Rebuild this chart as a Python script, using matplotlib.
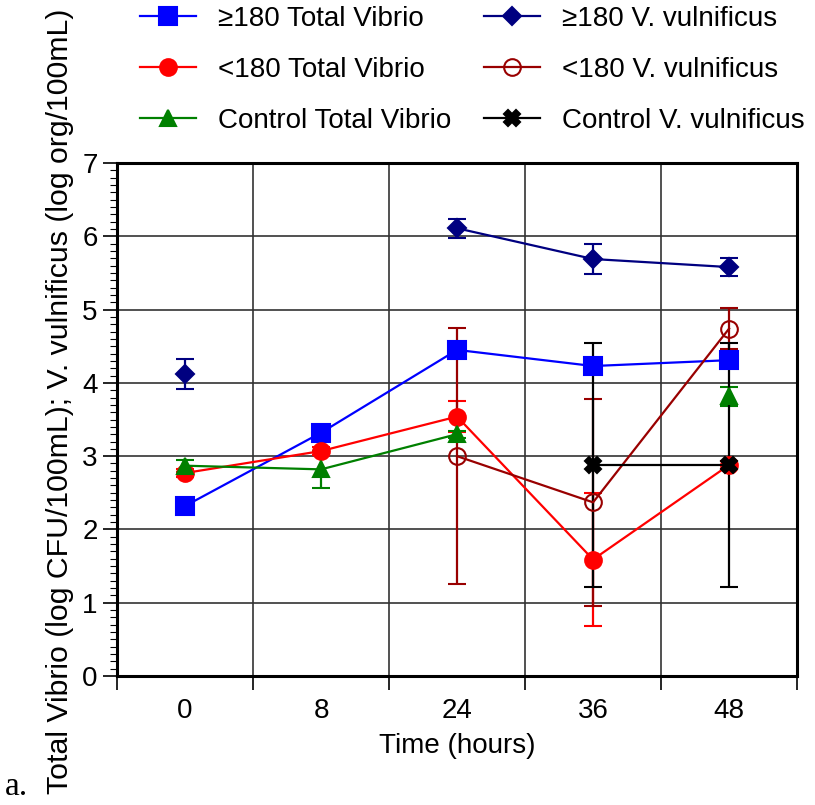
import matplotlib
matplotlib.use("Agg")
import matplotlib.pyplot as plt
from matplotlib.ticker import MultipleLocator, FixedLocator, NullFormatter
import numpy as np

plt.rcParams['font.family'] = ['Liberation Sans', 'DejaVu Sans']

# sampling times (hours), drawn as evenly spaced categories
times = ["0", "8", "24", "36", "48"]

# total Vibrio, log CFU/100mL
ge180_total = [2.32, 3.32, 4.45, 4.23, 4.31]
ge180_total_err = [0, 0, 0, 0, 0]
lt180_total = [2.77, 3.07, 3.54, 1.59, 2.88]
lt180_total_err = [0.05, 0.05, 0.21, 0.91, 0.05]
ctrl_total = [2.87, 2.82, 3.30, np.nan, 3.82]
ctrl_total_err = [0.08, 0.25, 0.05, np.nan, 0.13]

# V. vulnificus, log org/100mL
ge180_vv = [4.12, np.nan, 6.11, 5.69, 5.58]
ge180_vv_err = [0.2, np.nan, 0.13, 0.2, 0.12]
lt180_vv = [np.nan, np.nan, 3.00, 2.37, 4.74]
lt180_vv_err = [np.nan, np.nan, 1.75, 1.41, 0.28]
ctrl_vv = [np.nan, np.nan, np.nan, 2.88, 2.88]
ctrl_vv_err = [np.nan, np.nan, np.nan, 1.66, 1.66]

series = [
    (ge180_total, ge180_total_err, "≥180 Total Vibrio", "#0000FF", "s", 13, True),
    (lt180_total, lt180_total_err, "<180 Total Vibrio", "#FF0000", "o", 12, True),
    (ctrl_total, ctrl_total_err, "Control Total Vibrio", "#008000", "^", 12, True),
    (ge180_vv, ge180_vv_err, "≥180 V. vulnificus", "#000080", "D", 9, True),
    (lt180_vv, lt180_vv_err, "<180 V. vulnificus", "#990000", "o", 12, False),
    (ctrl_vv, ctrl_vv_err, "Control V. vulnificus", "#000000", "X", 11, True),
]

fig = plt.figure(figsize=(8.15, 8.05), dpi=100)
ax = fig.add_axes([0.1436, 0.1602, 0.8344, 0.6373])

x = np.arange(len(times))
handles = []
for vals, errs, name, col, mk, ms, filled in series:
    h = ax.errorbar(x, vals, yerr=errs, color=col, marker=mk, markersize=ms,
                    markerfacecolor=col if filled else "none",
                    markeredgecolor=col, markeredgewidth=1.5,
                    linewidth=1.6, elinewidth=1.6, capsize=6.5, capthick=1.6,
                    label=name)
    # legend shows just the line + marker
    handles.append(h[0])

ax.set_xlim(-0.5, len(times) - 0.5)
ax.set_ylim(0, 7)

# category boundaries carry the ticks and gridlines, labels sit in the middle
ax.xaxis.set_major_locator(FixedLocator(np.arange(-0.5, len(times), 1.0)))
ax.xaxis.set_major_formatter(NullFormatter())
ax.xaxis.set_minor_locator(FixedLocator(x))
ax.set_xticklabels(times, minor=True)
ax.tick_params(axis="x", which="major", length=10, width=1.2, direction="out")
ax.tick_params(axis="x", which="minor", length=0, pad=16, labelsize=20)

ax.yaxis.set_major_locator(MultipleLocator(1))
ax.yaxis.set_minor_locator(MultipleLocator(0.1))
ax.tick_params(axis="y", which="major", length=10, width=1.2, direction="out", labelsize=20, pad=4)
ax.tick_params(axis="y", which="minor", length=5, width=0.8, direction="out")

ax.grid(True, which="major", color="#333333", linewidth=1.2)
ax.set_axisbelow(True)
for sp in ax.spines.values():
    sp.set_linewidth(2.2)

ax.set_xlabel("Time (hours)", fontsize=20, labelpad=6)
fig.text(0.074, 0.501, "Total Vibrio (log CFU/100mL); V. vulnificus (log org/100mL)",
         rotation=90, ha="center", va="center", fontsize=21.8)

fig.legend(handles=handles, labels=[s[2] for s in series], loc="upper left",
           bbox_to_anchor=(0.165, 1.0), ncol=2, frameon=False, fontsize=20,
           handlelength=2.0, handletextpad=0.8, columnspacing=1.2,
           labelspacing=0.9, borderaxespad=0, borderpad=0.2)

fig.text(0.006, 0.004, "a.", fontsize=24, family="Liberation Serif", ha="left", va="bottom")

fig.savefig("out.png", dpi=100)
